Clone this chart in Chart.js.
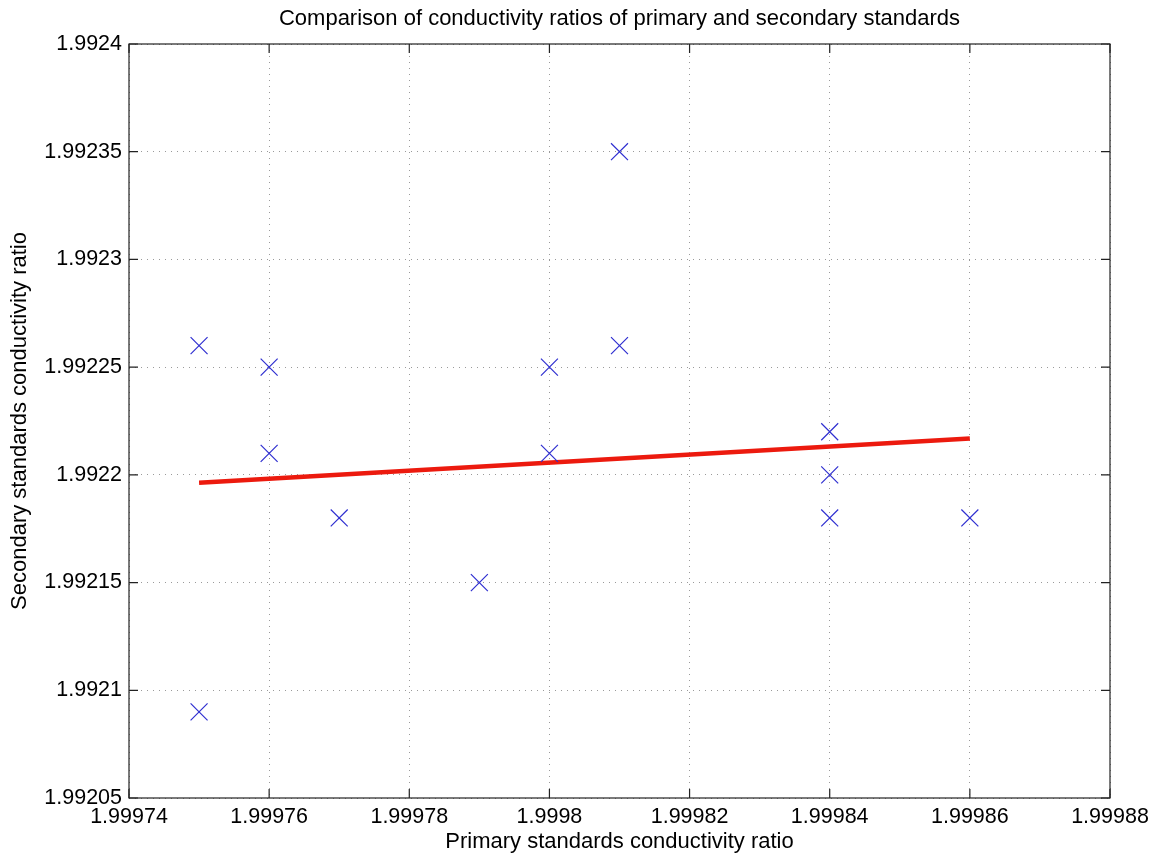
<!DOCTYPE html>
<html>
<head>
<meta charset="utf-8">
<title>Conductivity ratios</title>
<script src="https://cdn.jsdelivr.net/npm/chart.js@4.4.1/dist/chart.umd.min.js"></script>
<style>
  html, body { margin: 0; padding: 0; background: #fff; }
  #wrap { width: 1159px; height: 855px; position: relative; }
</style>
</head>
<body>
<div id="wrap"><canvas id="chart"></canvas></div>
<script>
// --- data ---
const primaryX = [1.99975, 1.99975, 1.99976, 1.99976, 1.99977, 1.99979, 1.99980,
                  1.99980, 1.99981, 1.99981, 1.99984, 1.99984, 1.99984, 1.99986];
const secondaryY = [1.99226, 1.99209, 1.99225, 1.99221, 1.99218, 1.99215, 1.99225,
                    1.99221, 1.99235, 1.99226, 1.99222, 1.99220, 1.99218, 1.99218];

// fitted line end points
const fitX = [1.99975, 1.99986];
const fitY = [1.9921963, 1.9922169];

const xTicks = [1.99974, 1.99976, 1.99978, 1.99980, 1.99982, 1.99984, 1.99986, 1.99988];
const yTicks = [1.99205, 1.99210, 1.99215, 1.99220, 1.99225, 1.99230, 1.99235, 1.99240];

const titleText = 'Comparison of conductivity ratios of primary and secondary standards';

const FONT = "'Liberation Sans', Arial, Helvetica, sans-serif";

const fmt = (v) => parseFloat(v.toFixed(5)).toString();

// title centred over the plot box (MATLAB style), not the whole canvas
const titlePlugin = {
    id: 'boxTitle',
    afterDraw(chart) {
        const { ctx, chartArea: a } = chart;
        ctx.save();
        ctx.fillStyle = '#000';
        ctx.font = `22px ${FONT}`;
        ctx.textAlign = 'center';
        ctx.textBaseline = 'middle';
        ctx.fillText(titleText, (a.left + a.right) / 2, 19);
        ctx.restore();
    }
};

// MATLAB style box with inward tick marks on all four sides
const boxPlugin = {
    id: 'matlabBox',
    afterDraw(chart) {
        const { ctx, chartArea: a, scales } = chart;
        const len = 9;
        ctx.save();
        ctx.strokeStyle = '#222';
        ctx.lineWidth = 1.2;
        ctx.strokeRect(a.left, a.top, a.right - a.left, a.bottom - a.top);
        ctx.beginPath();
        xTicks.forEach(v => {
            const px = scales.x.getPixelForValue(v);
            ctx.moveTo(px, a.bottom); ctx.lineTo(px, a.bottom - len);
            ctx.moveTo(px, a.top); ctx.lineTo(px, a.top + len);
        });
        yTicks.forEach(v => {
            const py = scales.y.getPixelForValue(v);
            ctx.moveTo(a.left, py); ctx.lineTo(a.left + len, py);
            ctx.moveTo(a.right, py); ctx.lineTo(a.right - len, py);
        });
        ctx.stroke();
        ctx.restore();
    }
};

const gridOpts = {
    color: '#9a9a9a',
    lineWidth: 1,
    drawTicks: false
};
// in v4 the grid line dash lives on the border options
const borderOpts = { display: false, dash: [1, 5] };

new Chart(document.getElementById('chart'), {
    type: 'scatter',
    data: {
        datasets: [
            {
                label: 'measurements',
                data: primaryX.map((x, i) => ({ x, y: secondaryY[i] })),
                pointStyle: 'crossRot',
                pointRadius: 12,
                pointHoverRadius: 12,
                borderColor: '#2f2fd0',
                backgroundColor: '#2f2fd0',
                pointBorderWidth: 1.2,
                showLine: false
            },
            {
                label: 'fit',
                data: fitX.map((x, i) => ({ x, y: fitY[i] })),
                showLine: true,
                borderColor: '#ec1a0e',
                borderWidth: 4.5,
                pointRadius: 0,
                fill: false
            }
        ]
    },
    options: {
        responsive: true,
        maintainAspectRatio: false,
        animation: false,
        layout: { padding: { left: 0, right: 49, top: 44, bottom: 0 } },
        plugins: {
            legend: { display: false },
            tooltip: { enabled: false },
            title: { display: false }
        },
        scales: {
            x: {
                type: 'linear',
                min: xTicks[0],
                max: xTicks[xTicks.length - 1],
                afterBuildTicks: (s) => { s.ticks = xTicks.map(v => ({ value: v })); },
                afterFit: (s) => { s.height = 57; },
                grid: gridOpts,
                border: borderOpts,
                ticks: {
                    color: '#000',
                    font: { family: FONT, size: 21.5 },
                    padding: 6,
                    maxRotation: 0,
                    autoSkip: false,
                    callback: (v) => fmt(v)
                },
                title: {
                    display: true,
                    text: 'Primary standards conductivity ratio',
                    color: '#000',
                    font: { family: FONT, size: 22, lineHeight: 1.2 },
                    padding: { top: 0, bottom: 0 }
                }
            },
            y: {
                type: 'linear',
                min: yTicks[0],
                max: yTicks[yTicks.length - 1],
                afterBuildTicks: (s) => { s.ticks = yTicks.map(v => ({ value: v })); },
                afterFit: (s) => { s.width = 129; },
                grid: gridOpts,
                border: borderOpts,
                ticks: {
                    color: '#000',
                    font: { family: FONT, size: 21.5 },
                    padding: 7,
                    autoSkip: false,
                    callback: (v) => fmt(v)
                },
                title: {
                    display: true,
                    text: 'Secondary standards conductivity ratio',
                    color: '#000',
                    font: { family: FONT, size: 22, lineHeight: 1.2 },
                    padding: { top: 7, bottom: 0 }
                }
            }
        }
    },
    plugins: [boxPlugin, titlePlugin]
});
</script>
</body>
</html>
